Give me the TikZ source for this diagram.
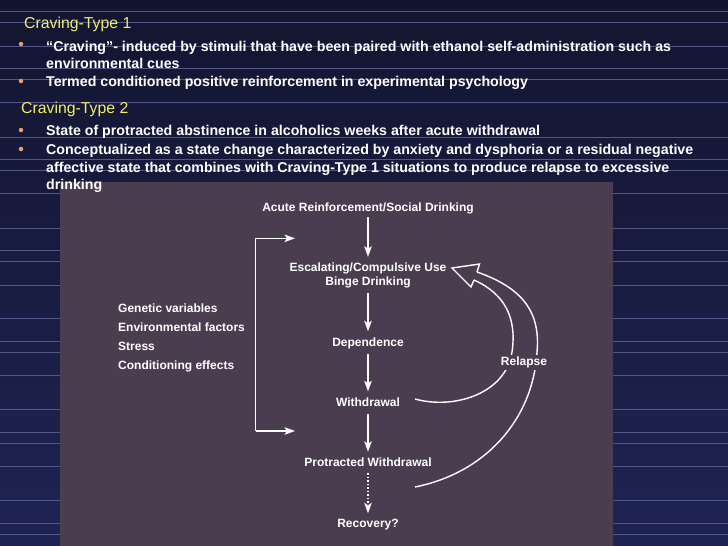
\documentclass[tikz,border=0pt]{standalone}
\usepackage{fontspec}
\setmainfont{Liberation Sans}
\usetikzlibrary{arrows.meta}
\definecolor{bgtop}{HTML}{131530}
\definecolor{bgbot}{HTML}{1F2352}
\definecolor{gridc}{HTML}{52578A}
\definecolor{panelc}{HTML}{4B3D50}
\definecolor{titley}{HTML}{F2EE6E}
\definecolor{dotc}{HTML}{E8A070}
\begin{document}
\begin{tikzpicture}[x=1pt,y=-1pt,
  gridline/.style={draw=gridc,line width=0.7pt},
  ttl/.style={anchor=base west,inner sep=0,text=titley,font=\fontsize{15.8}{18}\selectfont},
  btext/.style={anchor=base west,inner sep=0,text=white,font=\bfseries\fontsize{14.2}{16}\selectfont},
  bdot/.style={circle,fill=dotc,inner sep=0,minimum size=4.5},
  dnode/.style={anchor=base,inner sep=0,text=white,text height=9pt,text depth=2.5pt,font=\bfseries\fontsize{12}{13}\selectfont},
  lnode/.style={anchor=base west,inner sep=0,text=white,font=\bfseries\fontsize{12}{13}\selectfont},
  arr/.style={draw=white,line width=1.5pt,-{Stealth[length=10.5pt,width=7.5pt,inset=2.5pt]}},
  rel/.style={draw=white,line width=1.4pt,line join=miter}
]
\useasboundingbox (0,0) rectangle (728,546);
\shade[top color=bgtop,bottom color=bgbot] (0,0) rectangle (728,546);
\foreach \yy in {11,22,46,68,79,102,137,159,170,193,228,250,261,285,318,341,352,375,409,432,443,466,500,523,534}
  \draw[gridline] (0,\yy) -- (728,\yy);
\fill[panelc] (60,182) rectangle (613,546);

% titles and bullets
\node[ttl] (t1) at (24,28) {Craving-Type 1};
\node[bdot] (d1) at (21,44) {};
\node[btext] (b1a) at (46,51) {“Craving”- induced by stimuli that have been paired with ethanol self-administration such as};
\node[btext] (b1b) at (46,68) {environmental cues};
\node[bdot] (d2) at (21,81) {};
\node[btext] (b2) at (46,86) {Termed conditioned positive reinforcement in experimental psychology};
\node[ttl] (t2) at (21,113) {Craving-Type 2};
\node[bdot] (d3) at (21,130) {};
\node[btext] (b3) at (46,135) {State of protracted abstinence in alcoholics weeks after acute withdrawal};
\node[bdot] (d4) at (21,149) {};
\node[btext] (b4a) at (46,154) {Conceptualized as a state change characterized by anxiety and dysphoria or a residual negative};
\node[btext] (b4b) at (46,172) {affective state that combines with Craving-Type 1 situations to produce relapse to excessive};
\node[btext] (b4c) at (46,189) {drinking};

% diagram nodes
\node[dnode] (acute) at (368,211) {Acute Reinforcement/Social Drinking};
\node[dnode] (esc) at (368,271) {Escalating/Compulsive Use};
\node[dnode] (binge) at (368,285) {Binge Drinking};
\node[dnode] (dep) at (368,346.5) {Dependence};
\node[dnode] (wd) at (368,406) {Withdrawal};
\node[dnode] (pw) at (368,466) {Protracted Withdrawal};
\node[dnode] (rec) at (368,527.5) {Recovery?};

\draw[arr,shorten <=3.5pt,shorten >=5pt] (acute.south) -- (esc.north);
\draw[arr,shorten <=5.5pt,shorten >=6pt] (binge.south) -- (dep.north);
\draw[arr,shorten <=4.5pt,shorten >=5.5pt] (dep.south) -- (wd.north);
\draw[arr,shorten <=5.5pt,shorten >=5pt] (wd.south) -- (pw.north);
\draw[arr,dotted,shorten <=4.5pt,shorten >=5pt] (pw.south) -- (rec.north);

% left factors
\node[lnode] (f1) at (118,312.5) {Genetic variables};
\node[lnode] (f2) at (118,331.5) {Environmental factors};
\node[lnode] (f3) at (118,350) {Stress};
\node[lnode] (f4) at (118,369) {Conditioning effects};

% bracket
\coordinate (bt) at (255.7,238.3);
\coordinate (bb) at (255.7,431);
\coordinate (bte) at (295,238.3);
\coordinate (bbe) at (295,431);
\draw[arr,line width=1.4pt] (bb) -- (bt) -- (bte);
\draw[arr,line width=1.4pt] (bb) -- (bbe);

% relapse block arrow
\coordinate (hin) at (474,280);
\coordinate (hout) at (477,272);
\coordinate (htop) at (479.5,264);
\coordinate (htip) at (452,268);
\coordinate (hbot) at (471,287);
\coordinate (iend) at (415,399);
\coordinate (oend) at (415,487);
\draw[rel] (iend) .. controls (455,410) and (506,393) .. (512,352)
  .. controls (517,318) and (505,294) .. (hin);
\draw[rel] (oend) .. controls (485,473) and (533,420) .. (537,352)
  .. controls (541,310) and (520,287) .. (hout);
\draw[rel] (hout) -- (htop) -- (htip) -- (hbot) -- (hin);
\node[dnode,fill=panelc,inner xsep=1pt,inner ysep=2pt] (relapse) at (524,365.5) {Relapse};
\end{tikzpicture}
\end{document}
